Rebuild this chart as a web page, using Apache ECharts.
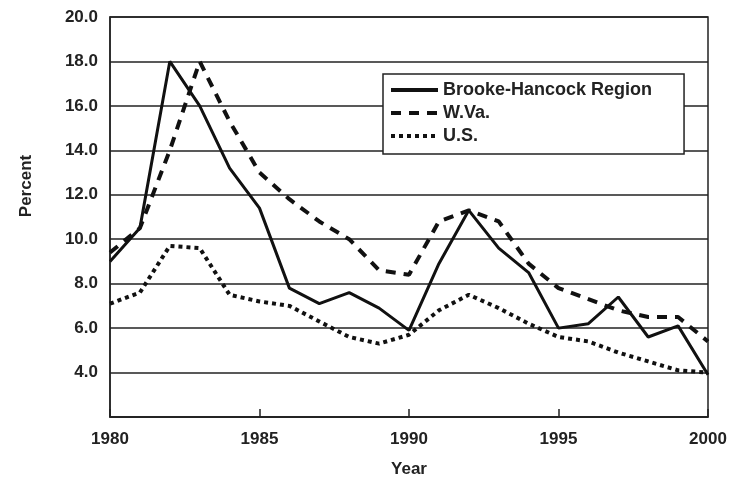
<!DOCTYPE html>
<html><head><meta charset="utf-8">
<script src="https://cdn.jsdelivr.net/npm/echarts@6/dist/echarts.min.js"></script>
<style>html,body{margin:0;padding:0;background:#fff}#c{width:730px;height:478px}</style>
</head><body><div id="c"></div>
<script>
const years = [1980,1981,1982,1983,1984,1985,1986,1987,1988,1989,1990,1991,1992,1993,1994,1995,1996,1997,1998,1999,2000];
const brookeHancock = [9.0,10.5,18.0,16.0,13.2,11.4,7.8,7.1,7.6,6.9,5.9,8.9,11.3,9.6,8.5,6.0,6.2,7.4,5.6,6.1,3.9];
const wva = [9.4,10.5,14.0,18.0,15.3,13.0,11.8,10.8,10.0,8.6,8.4,10.8,11.3,10.8,8.9,7.8,7.3,6.8,6.5,6.5,5.4];
const us = [7.1,7.6,9.7,9.6,7.5,7.2,7.0,6.3,5.6,5.3,5.7,6.8,7.5,6.9,6.2,5.6,5.4,4.9,4.5,4.1,4.0];
const seriesNames = ['Brooke-Hancock Region','W.Va.','U.S.'];
const xTicks = [1980,1985,1990,1995,2000];
const yTicks = [4,6,8,10,12,14,16,18,20];

const font = 'Liberation Sans, Arial, sans-serif';
const txt = '#222';
const pair = arr => years.map((y,i)=>[y,arr[i]]);
const chart = echarts.init(document.getElementById('c'), null, {renderer:'canvas'});
chart.setOption({
  animation:false,
  backgroundColor:'#fff',
  grid:{left:110,right:22,top:17,bottom:61,outerBoundsMode:'none',containLabel:false,
    show:true,borderColor:'#222',borderWidth:1.5,backgroundColor:'transparent'},
  xAxis:{type:'value',min:xTicks[0],max:xTicks[xTicks.length-1],interval:5,
    axisLine:{show:true,lineStyle:{color:'#222',width:1.5}},
    axisTick:{show:true,inside:true,length:8,lineStyle:{color:'#222',width:1.5}},
    splitLine:{show:false},
    axisLabel:{color:txt,fontFamily:font,fontWeight:'bold',fontSize:17,margin:14,formatter:v=>String(v)},
    name:'Year',nameLocation:'middle',nameGap:44,
    nameTextStyle:{color:txt,fontFamily:font,fontWeight:'bold',fontSize:17}},
  yAxis:{type:'value',min:2,max:20,interval:2,
    axisLine:{show:true,lineStyle:{color:'#222',width:1.5}},
    axisTick:{show:false},
    splitLine:{show:true,lineStyle:{color:'#222',width:1.5}},
    axisLabel:{color:txt,fontFamily:font,fontWeight:'bold',fontSize:17,margin:12,
      formatter:v=>yTicks.includes(v)?v.toFixed(1):''}},
  graphic:[{type:'text',x:26,y:186,rotation:Math.PI/2,
    style:{text:'Percent',fill:txt,font:'bold 17px '+font,align:'center',verticalAlign:'middle'}}],
  legend:{orient:'vertical',left:383,top:74,itemWidth:47,itemHeight:14,itemGap:3,
    padding:[6,32,8,6],borderColor:'#222',borderWidth:1.5,backgroundColor:'#fff',
    itemStyle:{opacity:0},lineStyle:{width:4},
    textStyle:{color:txt,fontFamily:font,fontWeight:'bold',fontSize:18,lineHeight:20},
    data:seriesNames},
  series:[
    {name:seriesNames[0],type:'line',data:pair(brookeHancock),symbol:'none',
      lineStyle:{color:'#111',width:3,type:'solid'},itemStyle:{color:'#111'}},
    {name:seriesNames[1],type:'line',data:pair(wva),symbol:'none',
      lineStyle:{color:'#111',width:4,type:[10,8]},itemStyle:{color:'#111'}},
    {name:seriesNames[2],type:'line',data:pair(us),symbol:'none',
      lineStyle:{color:'#111',width:4,type:[4,4]},itemStyle:{color:'#111'}}
  ]
});
</script></body></html>
